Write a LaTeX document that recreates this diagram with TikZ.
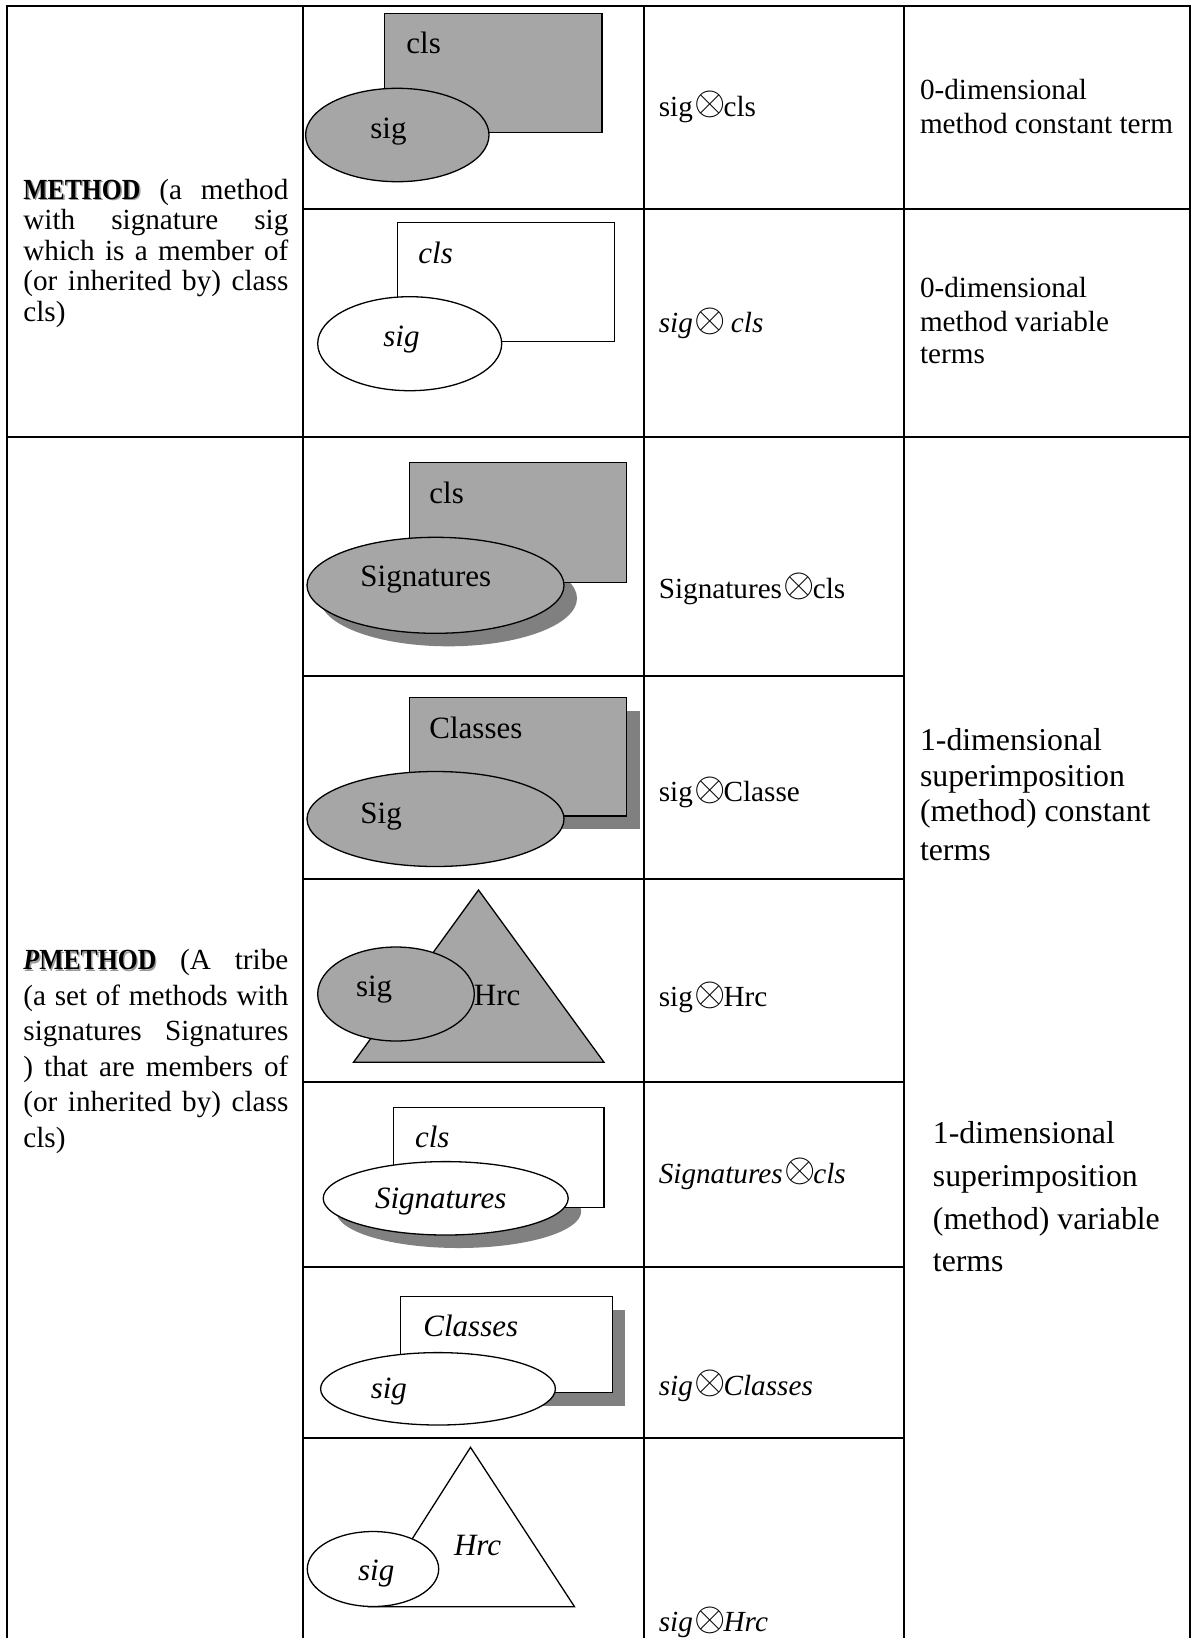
\documentclass[tikz,border=0pt]{standalone}
\usepackage{fontspec}
\setmainfont{Liberation Serif}

\definecolor{shapegray}{RGB}{166,166,166}
\definecolor{shadowgray}{RGB}{128,128,128}

% circled-times operator, enlarged to the size of the surrounding letters
\newcommand\ox{\kern0.8pt\raisebox{0.05em}{\scalebox{1.4}{$\otimes$}}\kern-1.1pt}
% one justified line of the first column
\newcommand\jline[1]{\makebox[132.5pt][s]{#1}}
% display word with a soft offset shade
\newcommand\kind[1]{\textbf{\scalebox{0.88}[1]{\rlap{\color{black!40}\kern0.8pt\raisebox{-0.8pt}{#1}}#1}}}

\tikzset{
  grid/.style={line width=1pt, line cap=rect},
  shp/.style={draw=black, line width=0.65pt, line join=miter},
  gfill/.style={shp, fill=shapegray},
  wfill/.style={shp, fill=white},
  shade/.style={fill=shadowgray, draw=none},
  txt/.style={anchor=base west, inner sep=0pt, font=\fontsize{14.6}{16}\selectfont},
  lbl/.style={anchor=base west, inner sep=0pt, font=\fontsize{15.5}{17}\selectfont},
  big/.style={anchor=base west, inner sep=0pt, font=\fontsize{15.9}{18}\selectfont},
}

\begin{document}
\begin{tikzpicture}[x=0.5pt,y=-0.5pt]
\useasboundingbox[fill=white] (0,0) rectangle (1191,1638);

% ---------- shapes of the second column ----------
% row 1: constant method
\draw[gfill] (384.7,13.3) rectangle (601.9,132.3);
\draw[gfill] (397.3,135) ellipse [x radius=91.7, y radius=46.7];
\node[lbl] (r1cls) at (406,54) {cls};
\node[lbl] (r1sig) at (370,138.3) {sig};

% row 2: variable method
\draw[wfill] (397.7,222.7) rectangle (614.5,341.7);
\draw[wfill] (409.7,343.7) ellipse [x radius=92, y radius=47];
\node[lbl] (r2cls) at (418,263.3) {\itshape cls};
\node[lbl] (r2sig) at (383,346.7) {\itshape sig};

% row 3: set of signatures, one class
\fill[shade] (448.5,598.3) ellipse [x radius=128.5, y radius=48];
\draw[gfill] (409.5,462.7) rectangle (626.3,582.3);
\draw[gfill] (435.5,585.3) ellipse [x radius=128.5, y radius=48];
\node[lbl] (r3cls) at (429,503.3) {cls};
\node[lbl] (r3sig) at (360,586.7) {Signatures};

% row 4: one signature, set of classes
\fill[shade] (422.9,711) rectangle (639.7,829.3);
\draw[gfill] (409.5,697.3) rectangle (626.3,816);
\draw[gfill] (435.5,819) ellipse [x radius=128.5, y radius=47.5];
\node[lbl] (r4cls) at (429,738.3) {Classes};
\node[lbl] (r4sig) at (360,823.3) {Sig};

% row 5: one signature, hierarchy
\draw[gfill] (478.5,890) -- (604,1062.3) -- (353.5,1062.3) -- cycle;
\node[lbl] (r5hrc) at (473.5,1005.7) {Hrc};
\draw[gfill] (396,994) ellipse [x radius=78.3, y radius=47];
\node[lbl] (r5sig) at (355.6,996.7) {sig};

% row 6: variable set of signatures
\fill[shade] (458.7,1211.3) ellipse [x radius=122.5, y radius=36.7];
\draw[wfill] (393.5,1107.3) rectangle (604,1207.7);
\draw[wfill] (445.7,1198.3) ellipse [x radius=122.5, y radius=36.7];
\node[lbl] (r6cls) at (414.6,1147.3) {\itshape cls};
\node[lbl] (r6sig) at (374.6,1208.3) {\itshape Signatures};

% row 7: variable set of classes
\fill[shade] (413.3,1310) rectangle (625,1405.7);
\draw[wfill] (400.7,1296.7) rectangle (612.4,1392.7);
\draw[wfill] (438,1388.8) ellipse [x radius=117.4, y radius=36.2];
\node[lbl] (r7cls) at (423,1336.7) {\itshape Classes};
\node[lbl] (r7sig) at (370.4,1398.3) {\itshape sig};

% row 8: variable hierarchy
\draw[wfill] (470.5,1447.3) -- (574.5,1606.7) -- (369,1606.7) -- cycle;
\draw[wfill] (373,1569) ellipse [x radius=65.7, y radius=37.5];
\node[lbl] (r8hrc) at (453.7,1555) {\itshape Hrc};
\node[lbl] (r8sig) at (357.7,1580) {\itshape sig};

% ---------- first column ----------
\node[txt] (m1) at (23,199)   {\jline{\kind{METHOD} (a method}};
\node[txt] (m2) at (23,229.5) {\jline{with signature sig}};
\node[txt] (m3) at (23,260)   {\jline{which is a member of}};
\node[txt] (m4) at (23,290.5) {\jline{(or inherited by) class}};
\node[txt] (m5) at (23,321)   {cls)};

\node[txt] (p1) at (23,969.5)  {\jline{\kind{\textit{P}METHOD} (A tribe}};
\node[txt] (p2) at (23,1005)   {\jline{(a set of methods with}};
\node[txt] (p3) at (23,1040.5) {\jline{signatures Signatures}};
\node[txt] (p4) at (23,1076)   {\jline{) that are members of}};
\node[txt] (p5) at (23,1111.5) {\jline{(or inherited by) class}};
\node[txt] (p6) at (23,1147)   {cls)};

% ---------- third column: terms ----------
\node[txt] (t1) at (658.4,116)    {sig\ox cls};
\node[txt] (t2) at (658.4,332.7)  {\textit{sig}\ox{} \textit{cls}};
\node[txt] (t3) at (658.4,598.3)  {Signatures\ox cls};
\node[txt] (t4) at (658.4,801.7)  {sig\ox Classe};
\node[txt] (t5) at (658.4,1006.7) {sig\ox Hrc};
\node[txt] (t6) at (658.4,1183.3) {\textit{Signatures}\ox\textit{cls}};
\node[txt] (t7) at (658.4,1395)   {\textit{sig}\ox\textit{Classes}};
\node[txt] (t8) at (658.4,1631.7) {\textit{sig}\ox\textit{Hrc}};

% ---------- fourth column: kinds of terms ----------
\node[txt] (k1a) at (919.6,99.3)  {0-dimensional};
\node[txt] (k1b) at (919.6,133.3) {method constant term};
\node[txt] (k2a) at (919.6,297.3) {0-dimensional};
\node[txt] (k2b) at (919.6,331)   {method variable};
\node[txt] (k2c) at (919.6,363.3) {terms};

\node[big] (k3a) at (919.6,750)   {1-dimensional};
\node[big] (k3b) at (919.6,786.7) {superimposition};
\node[big] (k3c) at (919.6,821.7) {(method) constant};
\node[big] (k3d) at (919.6,860)   {terms};

\node[big] (k4a) at (932.5,1143.5) {1-dimensional};
\node[big] (k4b) at (932.5,1186)   {superimposition};
\node[big] (k4c) at (932.5,1229)   {(method) variable};
\node[big] (k4d) at (932.5,1271)   {terms};

% ---------- table rules ----------
\coordinate (tl) at (7,6);
\coordinate (tr) at (1190,6);
\draw[grid] (7,1638) -- (tl) -- (tr) -- (1190,1638);
\draw[grid] (302.6,6) -- (302.6,1638);
\draw[grid] (644,6) -- (644,1638);
\draw[grid] (903.8,6) -- (903.8,1638);
\draw[grid] (302.6,209) -- (1190,209);
\draw[grid] (7,436.7) -- (1190,436.7);
\foreach \yy in {675.7,878.5,1082.3,1267,1437.7}
  \draw[grid] (302.6,\yy) -- (903.8,\yy);
\end{tikzpicture}
\end{document}
